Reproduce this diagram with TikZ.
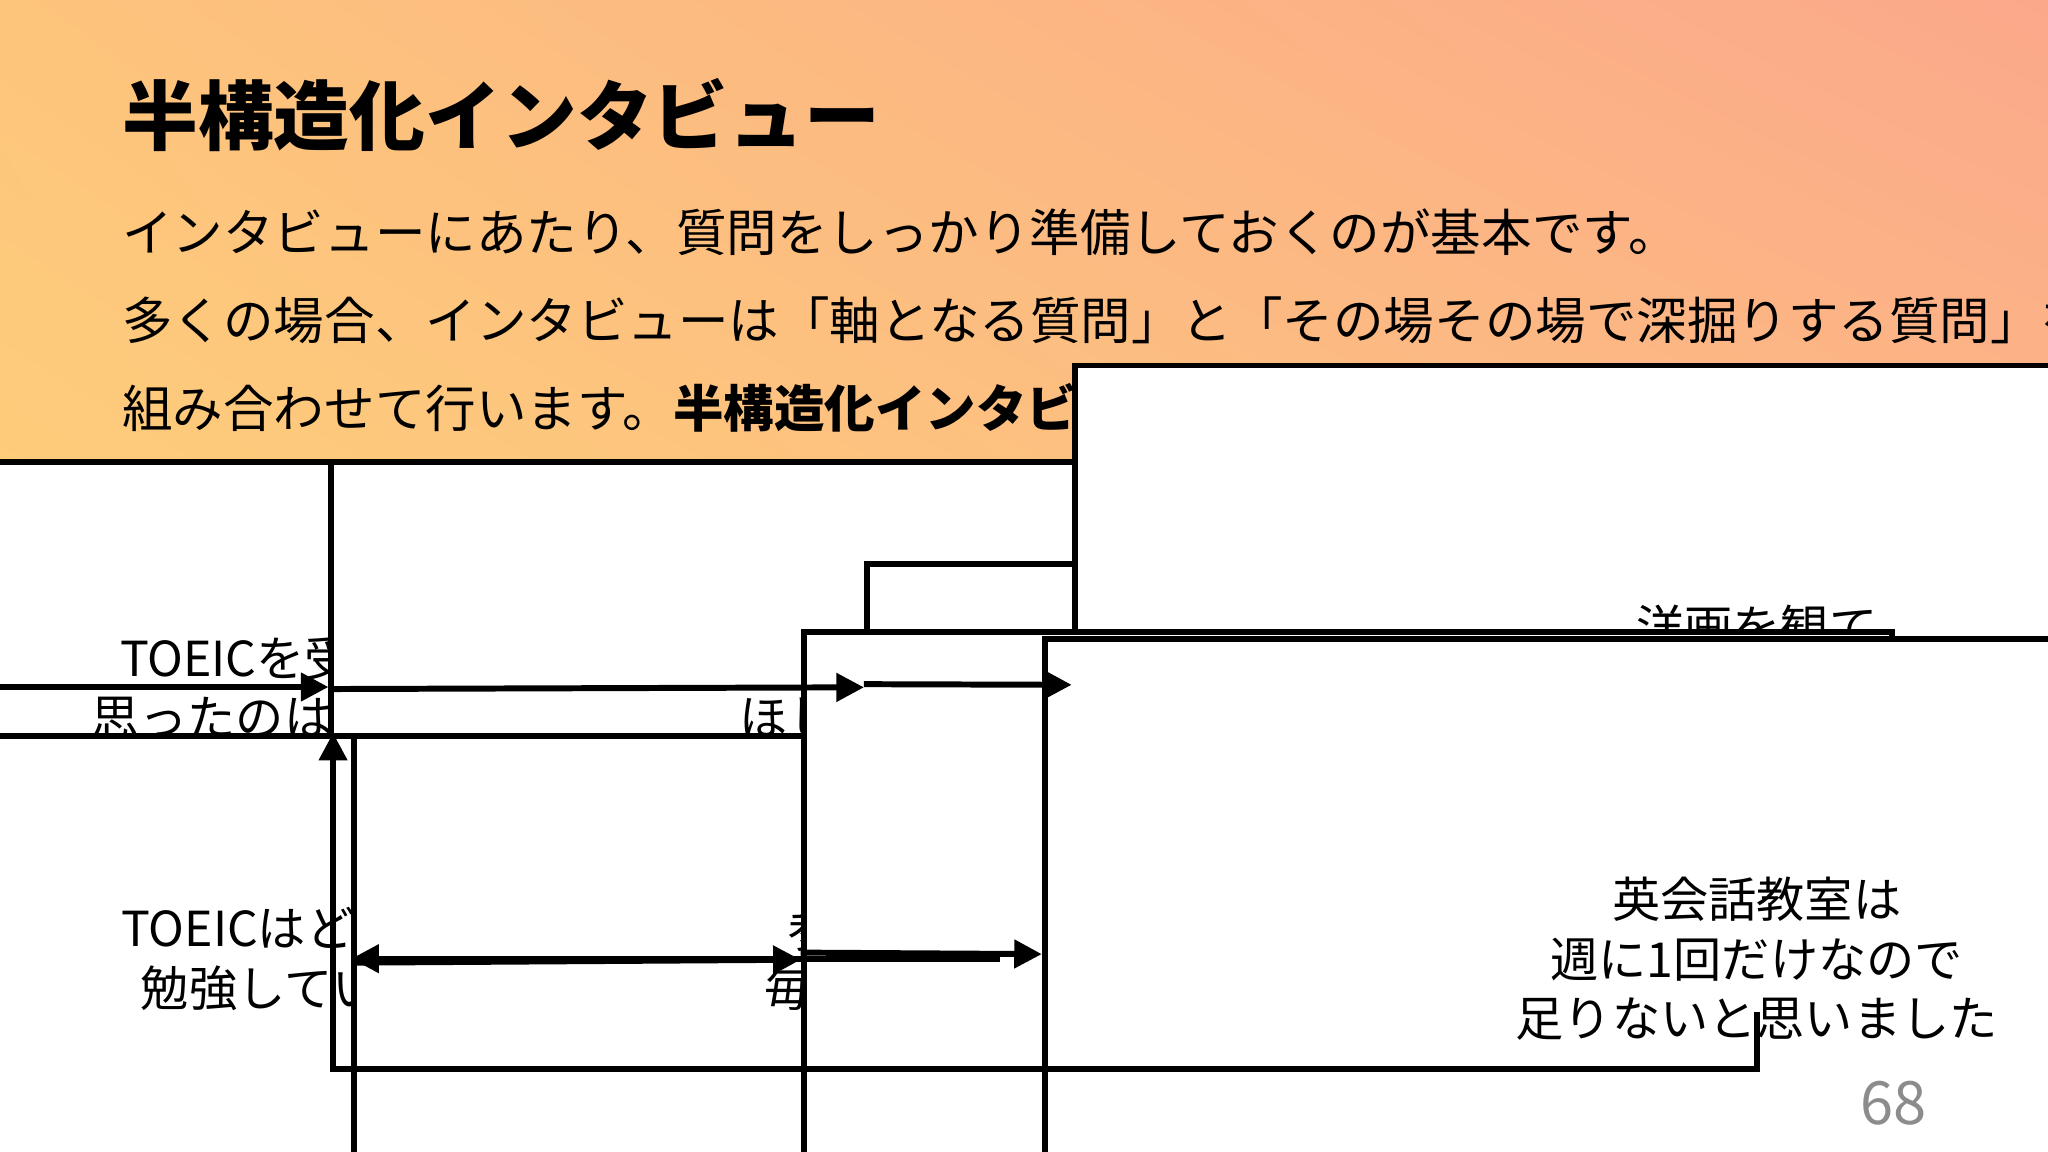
\documentclass[tikz,border=0pt]{standalone}
\usepackage{fontspec}
\setmainfont{Noto Sans CJK JP}
\usetikzlibrary{arrows.meta,shadings}
\definecolor{cUL}{RGB}{253,196,124}
\definecolor{cUR}{RGB}{251,168,138}
\definecolor{cLL}{RGB}{254,218,120}
\definecolor{cLR}{RGB}{253,200,125}
\begin{document}
\begin{tikzpicture}[x=0.01cm,y=-0.01cm,
 panel/.style={fill=black!25,draw=none,rounded corners=0.2cm},
 box/.style={draw=black,line width=1.3pt,fill=white,align=center,inner sep=0pt,font=\fontsize{10.5}{13}\selectfont},
 conn/.style={line width=1.3pt,-{Triangle[length=6pt,width=6pt]}},
 body/.style={anchor=west,inner sep=0pt,font=\fontsize{11}{13}\selectfont}]
\useasboundingbox (0,0) rectangle (1568,882);
\shade[upper left=cUL,upper right=cUR,lower left=cLL,lower right=cLR] (0,0) rectangle (1568,882);
\node[body,font=\fontsize{16.5}{18}\bfseries\selectfont] (t) at (93,88) {半構造化インタビュー};
\node[body] (l1) at (93,178) {インタビューにあたり、質問をしっかり準備しておくのが基本です。};
\node[body] (l2) at (93,245) {多くの場合、インタビューは「軸となる質問」と「その場その場で深掘りする質問」を};
\node[body] (l3) at (93,312) {組み合わせて行います。\textbf{半構造化インタビュー}と呼びます。};
\fill[panel] (40,363) rectangle (490,830);
\fill[panel] (554,363) rectangle (1527,830);
\node[font=\fontsize{11}{13}\bfseries\selectfont] (h1) at (278,410) {軸となる質問};
\node[font=\fontsize{11}{13}\bfseries\selectfont] (h2) at (1022,410) {その場その場で深掘りする質問};
\node[box,minimum width=318,minimum height=98] (A) at (255,526) {TOEICを受けようと\\思ったのはなぜですか};
\node[box,minimum width=272,minimum height=98] (B) at (732,526) {外人の恋人が\\ほしかったからです};
\node[box,minimum width=210,minimum height=53] (C) at (1033,525) {なぜですか？};
\node[box,minimum width=297,minimum height=140] (D) at (1345,526) {洋画を観て\\あんな恋人がほしい\\と思ったからです};
\node[box,minimum width=289,minimum height=97] (E) at (255,734) {TOEICはどうやって\\勉強していますか};
\node[box,minimum width=262,minimum height=97] (F) at (732,734) {参考書を買って\\毎日やっています};
\node[box,minimum width=237,minimum height=141] (G) at (1032,732) {なぜほかの\\方法では\\ないのですか？};
\node[box,minimum width=310,minimum height=139] (H) at (1345,734) {英会話教室は\\週に1回だけなので\\足りないと思いました};
\draw[conn] (A) -- (B);
\draw[conn] (B) -- (C);
\draw[conn] (C) -- (D);
\draw[conn] (D.south) -- ++(0,44) -| (E.north);
\draw[conn] (E) -- (F);
\draw[conn] (F) -- (G);
\draw[conn] (G) -- (H);
\node[text=black!45,font=\fontsize{13}{15}\selectfont] (p) at (1450,845) {68};
\end{tikzpicture}
\end{document}
